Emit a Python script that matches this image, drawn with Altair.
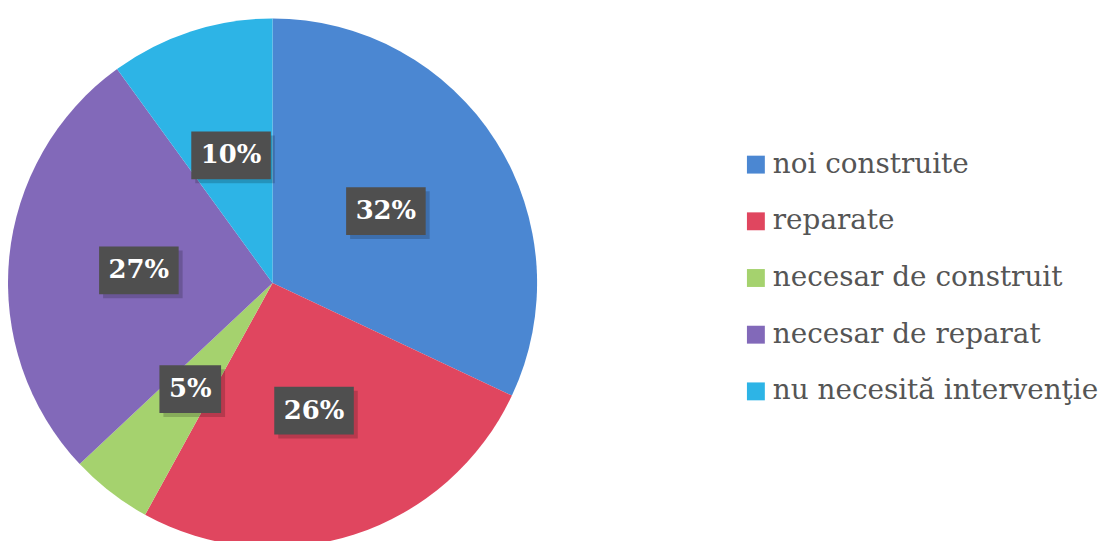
import altair as alt
import pandas as pd

categories = ["noi construite", "reparate", "necesar de construit",
              "necesar de reparat", "nu necesită intervenţie"]
values = [32, 26, 5, 27, 10]
labels = ["32%", "26%", "5%", "27%", "10%"]
colors = ["#4b87d2", "#e0465f", "#a5d26e", "#8269b9", "#2db4e6"]

df = pd.DataFrame({"cat": categories, "value": values, "label": labels,
                   "order": list(range(len(categories)))})

CX, CY, R, LR = 265, 275, 266, 135
SERIF = "DejaVu Serif"

base = alt.Chart(df)

pie = base.mark_arc(radius=R).encode(
    theta=alt.Theta("value:Q", stack=True),
    color=alt.Color("cat:N", scale=alt.Scale(domain=categories, range=colors),
                    legend=alt.Legend(title=None, orient="none", legendX=737, legendY=142,
                                      symbolType="square", symbolSize=324, symbolStrokeWidth=0,
                                      labelFontSize=28, labelFont=SERIF,
                                      labelColor="#555555", rowPadding=29, labelLimit=0,
                                      labelOffset=3)),
    order=alt.Order("order:Q"),
    x=alt.value(CX), y=alt.value(CY),
)

pos = (base
       .transform_window(cum="sum(value)", sort=[alt.SortField("order")], frame=[None, 0])
       .transform_joinaggregate(total="sum(value)")
       .transform_calculate(
           ang="2*PI*(datum.cum - datum.value/2)/datum.total",
           px=f"{CX} + {LR}*sin(datum.ang)",
           py=f"{CY} - {LR}*cos(datum.ang)",
           hw="13 + 9*length(datum.label)",
       )
       .transform_calculate(
           x0="datum.px - datum.hw", x1="datum.px + datum.hw",
           y0="datum.py - 24", y1="datum.py + 24",
           sx0="datum.px - datum.hw + 4", sx1="datum.px + datum.hw + 4",
           sy0="datum.py - 20", sy1="datum.py + 28",
       ))

shadow = pos.mark_rect(color="#000000", opacity=0.18).encode(
    x=alt.X("sx0:Q", scale=None, axis=None), x2="sx1:Q",
    y=alt.Y("sy0:Q", scale=None, axis=None), y2="sy1:Q")
boxes = pos.mark_rect(color="#4f4f4f").encode(
    x=alt.X("x0:Q", scale=None, axis=None), x2="x1:Q",
    y=alt.Y("y0:Q", scale=None, axis=None), y2="y1:Q")
texts = pos.mark_text(font=SERIF, fontSize=26, fontWeight="bold",
                      color="white", baseline="middle", align="center").encode(
    x=alt.X("px:Q", scale=None, axis=None),
    y=alt.Y("py:Q", scale=None, axis=None),
    text="label:N")

chart = (alt.layer(pie, shadow, boxes, texts)
         .properties(width=1091, height=525, padding=0)
         .configure_view(stroke=None))

chart.save("out.html", embed_options={"renderer": "svg", "actions": False})
